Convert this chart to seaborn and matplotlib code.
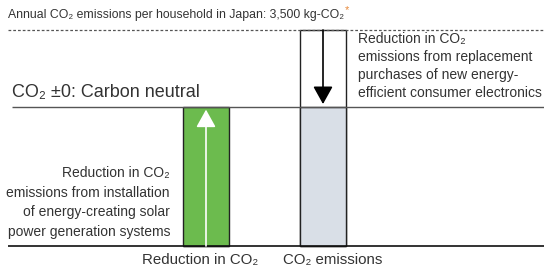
import matplotlib
matplotlib.use("Agg")
import matplotlib.pyplot as plt
import seaborn as sns
import pandas as pd

# ---- data (kg-CO2 per household per year) ----
categories = ["Reduction in CO\u2082", "CO\u2082 emissions"]
total_emissions = 3500                      # annual household emissions
electronics_reduction = 1250                # reduced by efficient electronics
remaining_emissions = total_emissions - electronics_reduction  # offset by solar
solar_reduction = remaining_emissions
bar_values = [solar_reduction, remaining_emissions]
outline_values = [0, total_emissions]

sns.set_theme(style="white")
plt.rcParams["font.family"] = ["Liberation Sans", "DejaVu Sans"]

W, H = 544, 268
fig = plt.figure(figsize=(W / 100, H / 100), dpi=100)
ax = fig.add_axes([0, 0, 1, 1])

px_per_cat = 117.0
x0_px = 206.0
base_px, top_px = 246.0, 30.0
per_px = total_emissions / (base_px - top_px)

text_col = "#333333"

# outline box for total emissions
df_out = pd.DataFrame({"cat": categories, "val": outline_values})
sns.barplot(data=df_out, x="cat", y="val", ax=ax, width=0.39,
            color="white", edgecolor="#222222", linewidth=1.0, zorder=2,
            saturation=1)
# filled bars
df = pd.DataFrame({"cat": categories, "val": bar_values})
sns.barplot(data=df, x="cat", y="val", hue="cat", ax=ax, width=0.39,
            palette=["#6cbb4e", "#d9dfe7"], edgecolor="#222222",
            linewidth=1.0, legend=False, zorder=3, saturation=1)
ax.set_xlim(-x0_px / px_per_cat, (W - x0_px) / px_per_cat)
ax.set_ylim(-(H - base_px) * per_px, base_px * per_px)
ax.axis("off")

xl = ax.get_xlim()
def px2x(p):
    return xl[0] + p / W * (xl[1] - xl[0])

# reference lines
ax.hlines(total_emissions, px2x(8), xl[1], colors="#555555", linewidth=0.9,
          linestyles=(0, (2.2, 1.6)), zorder=4)
ax.hlines(remaining_emissions, px2x(12), xl[1], colors="#555555",
          linewidth=1.0, zorder=4)
ax.hlines(0, px2x(8), xl[1], colors="#111111", linewidth=1.2, zorder=5)

# arrows
ax.annotate("", xy=(0, remaining_emissions - 40), xytext=(0, 0),
            arrowprops=dict(arrowstyle="-|>,head_length=0.9,head_width=0.5",
                            color="white", lw=1.2, shrinkA=0, shrinkB=0),
            zorder=6)
ax.annotate("", xy=(1, remaining_emissions + 50), xytext=(1, total_emissions),
            arrowprops=dict(arrowstyle="-|>,head_length=0.9,head_width=0.5",
                            color="black", lw=1.2, shrinkA=0, shrinkB=0),
            zorder=6)

# texts
t = ax.text(px2x(8), total_emissions + 15 * per_px,
            "Annual CO\u2082 emissions per household in Japan: 3,500 kg-CO\u2082",
            fontsize=8.8, color=text_col, ha="left", va="center")
ax.annotate("*", xy=(1, 1), xycoords=t, xytext=(0.5, 2.5),
            textcoords="offset points", fontsize=8, color="#e8893a",
            ha="left", va="top")
ax.text(px2x(12), remaining_emissions + 15 * per_px,
        "CO\u2082 \u00b10: Carbon neutral", fontsize=13, color=text_col,
        ha="left", va="center")
ax.text(px2x(358), remaining_emissions + 41.5 * per_px,
        "Reduction in CO\u2082\nemissions from replacement\npurchases of new energy-\nefficient consumer electronics",
        fontsize=10, color=text_col, ha="left", va="center", linespacing=1.36)
ax.text(px2x(170), 43.5 * per_px,
        "Reduction in CO\u2082\nemissions from installation\nof energy-creating solar\npower generation systems",
        fontsize=10, color=text_col, ha="right", va="center", linespacing=1.54,
        multialignment="right")
label_px = [200.5, 332.5]
for c, p in zip(categories, label_px):
    ax.text(px2x(p), -14 * per_px, c, fontsize=10.8, color=text_col,
            ha="center", va="center")

fig.savefig("out.png", dpi=100)
